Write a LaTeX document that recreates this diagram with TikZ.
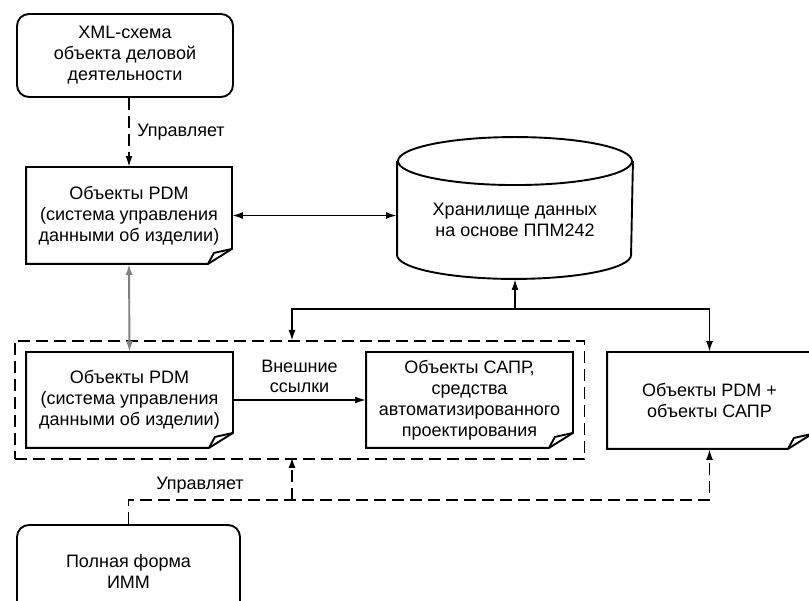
\documentclass[tikz,border=0pt]{standalone}
\usepackage{fontspec}
\setmainfont{Liberation Sans}
\usetikzlibrary{arrows.meta,fit}

% page with a dog-eared bottom right corner
\newcommand\foldbox[1]{%
  \draw (#1.north west) -- (#1.north east) -- ([yshift=15pt]#1.south east)
    -- ([xshift=-24pt]#1.south east) -- (#1.south west) -- cycle;
  \draw ([xshift=-24pt]#1.south east) -- ([xshift=-18pt,yshift=11pt]#1.south east)
    -- ([yshift=15pt]#1.south east);}

\begin{document}
\begin{tikzpicture}[x=1pt,y=-1pt,line width=1.9pt,font=\fontsize{18}{21}\selectfont,
  >={Latex[length=11pt,width=7pt]},
  endbox/.style={draw,rounded corners=12pt,align=center},
  page/.style={align=center,inner sep=0pt},
  ctrl/.style={dash pattern=on 12pt off 6pt}]
\useasboundingbox (0,0) rectangle (809,601);

\node[endbox,minimum width=216pt,minimum height=83pt] (xml) at (125,55.5) {XML-схема\\объекта деловой\\деятельности};
\node[page,minimum width=204pt,minimum height=95pt] (pdma) at (129,215.5) {Объекты PDM\\(система управления\\данными об изделии)};
\foldbox{pdma}

\node[align=center,minimum width=234pt,minimum height=116pt] (store) at (515,220) {Хранилище данных\\на основе ППМ242};
\draw (store.north west) -- ([yshift=24pt]store.south west)
  arc[start angle=180,end angle=360,x radius=117pt,y radius=24pt] -- (store.north east);
\draw (store.north) ellipse[x radius=117pt,y radius=24pt];

\node[page,minimum width=205pt,minimum height=94pt] (pdmb) at (129.5,400) {Объекты PDM\\(система управления\\данными об изделии)};
\foldbox{pdmb}
\node[page,minimum width=205pt,minimum height=94pt] (cad) at (469.5,400) {Объекты САПР,\\средства\\автоматизированного\\проектирования};
\foldbox{cad}
\node[page,minimum width=203pt,minimum height=95pt] (both) at (709.5,400.5) {Объекты PDM +\\объекты САПР};
\foldbox{both}
\node[draw,ctrl,fit=(pdmb)(cad),inner xsep=11.5pt,inner ysep=11pt] (ext) {};

\node[endbox,minimum width=223pt,minimum height=92pt] (imm) at (128.5,571) {Полная форма\\ИММ};

% links
\draw[ctrl,->] (pdma.north |- xml.south) -- node[right=4pt]{Управляет} (pdma.north);
\draw[<->] (pdma.east) -- (pdma.east -| store.west);
\draw[<->,gray] (pdma.south) -- (pdmb.north);
\coordinate (jn) at (store.south |- 0,309);
\coordinate (extin) at (292,341);
\draw[->] (jn) -- (store.south);
\draw[->] (jn) -| (extin);
\draw[->] (jn) -| (both.north);
\draw[->] (pdmb.east) -- node[above=3pt,align=center,font=\fontsize{18}{20}\selectfont]{Внешние\\ссылки} (cad.west);

\coordinate (bend) at (imm.north |- 0,500);
\coordinate (extout) at (292,457);
\draw[ctrl,->] (imm.north) -- (bend) -| (both.south);
\draw[ctrl,->] (extout |- bend) -- (extout);
\node at (200,485) {Управляет};
\end{tikzpicture}
\end{document}
